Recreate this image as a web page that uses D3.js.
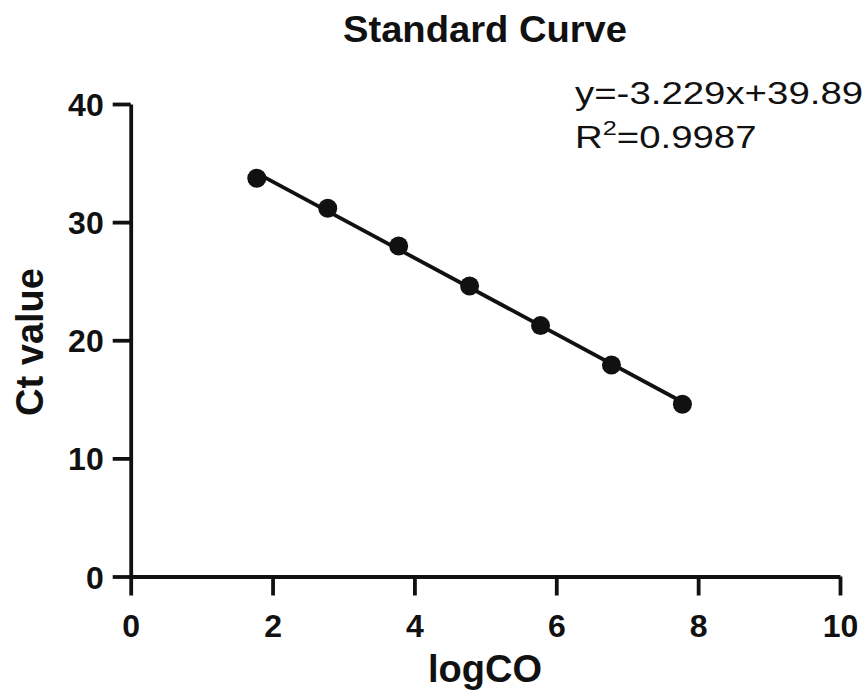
<!DOCTYPE html>
<html>
<head>
<meta charset="utf-8">
<script src="https://cdn.jsdelivr.net/npm/d3@7"></script>
<style>
  body { margin: 0; background: #fff; }
  svg { display: block; font-family: "Liberation Sans", Arial, sans-serif; }
</style>
</head>
<body>
<svg width="868" height="696"></svg>
<script>
// data
var logCO = [1.778, 2.778, 3.778, 4.778, 5.778, 6.778, 7.778];
var ctValues = [33.72, 31.18, 27.98, 24.60, 21.24, 17.91, 14.58];
var xTicks = [0, 2, 4, 6, 8, 10];
var yTicks = [0, 10, 20, 30, 40];
var fitSlope = -3.229, fitIntercept = 39.89;
var eqText = "y=-3.229x+39.89";
var r2Text = "=0.9987";

var width = 868, height = 696;
var marge = {top: 104, bottom: 119.5, left: 130.7, right: 28};

var svg = d3.select("svg");
var x = d3.scaleLinear().domain([0, 10]).range([marge.left, width - marge.right]);
var y = d3.scaleLinear().domain([0, 40]).range([height - marge.bottom, marge.top]);

// axes
var xAxis = svg.append("g")
  .attr("transform", "translate(0," + y(0) + ")")
  .call(d3.axisBottom(x).tickValues(xTicks).tickSize(19).tickSizeOuter(0).tickFormat(d3.format("d")));
var yAxis = svg.append("g")
  .attr("transform", "translate(" + x(0) + ",0)")
  .call(d3.axisLeft(y).tickValues(yTicks).tickSize(18).tickSizeOuter(0).tickFormat(d3.format("d")));

[xAxis, yAxis].forEach(function(g){
  g.select(".domain").attr("stroke", "#111").attr("stroke-width", 3.8);
  g.selectAll(".tick line").attr("stroke", "#111").attr("stroke-width", 3.8);
  g.selectAll(".tick text")
    .attr("fill", "#111")
    .style("font-size", "32px")
    .style("font-weight", "bold");
});
xAxis.selectAll(".tick text").attr("y", 60.5).attr("dy", null);
yAxis.selectAll(".tick text").attr("x", -27).attr("dy", "0.36em");

// fitted line
var line = d3.line()
  .x(function(d){ return x(d); })
  .y(function(d){ return y(fitSlope * d + fitIntercept); });
svg.append("path")
  .datum([d3.min(logCO), d3.max(logCO)])
  .attr("d", line)
  .attr("fill", "none")
  .attr("stroke", "#111")
  .attr("stroke-width", 3.8);

// points
svg.append("g").selectAll("circle")
  .data(logCO)
  .enter()
  .append("circle")
  .attr("cx", function(d){ return x(d); })
  .attr("cy", function(d, i){ return y(ctValues[i]); })
  .attr("r", 9.5)
  .attr("fill", "#111");

// title
svg.append("text")
  .attr("x", 485).attr("y", 42)
  .attr("text-anchor", "middle")
  .attr("textLength", 284).attr("lengthAdjust", "spacingAndGlyphs")
  .style("font-size", "36px").style("font-weight", "bold")
  .attr("fill", "#111")
  .text("Standard Curve");

// axis titles
svg.append("text")
  .attr("x", 485).attr("y", 682)
  .attr("text-anchor", "middle")
  .style("font-size", "38px").style("font-weight", "bold")
  .attr("fill", "#111")
  .text("logCO");
svg.append("text")
  .attr("transform", "translate(43,342) rotate(-90)")
  .attr("text-anchor", "middle")
  .style("font-size", "38px").style("font-weight", "bold")
  .attr("fill", "#111")
  .text("Ct value");

// equation (the reference glyphs are a bit wider than Liberation Sans)
var eq = svg.append("g").attr("transform", "translate(575,0) scale(1.2,1)");
eq.append("text")
  .attr("x", 0).attr("y", 104)
  .style("font-size", "32px")
  .attr("fill", "#111")
  .text(eqText);
var r2 = eq.append("text")
  .attr("x", 0).attr("y", 148)
  .style("font-size", "32px")
  .attr("fill", "#111");
r2.append("tspan").text("R");
r2.append("tspan").attr("dy", -13).style("font-size", "21px").text("2");
r2.append("tspan").attr("dy", 13).text(r2Text);
</script>
</body>
</html>
